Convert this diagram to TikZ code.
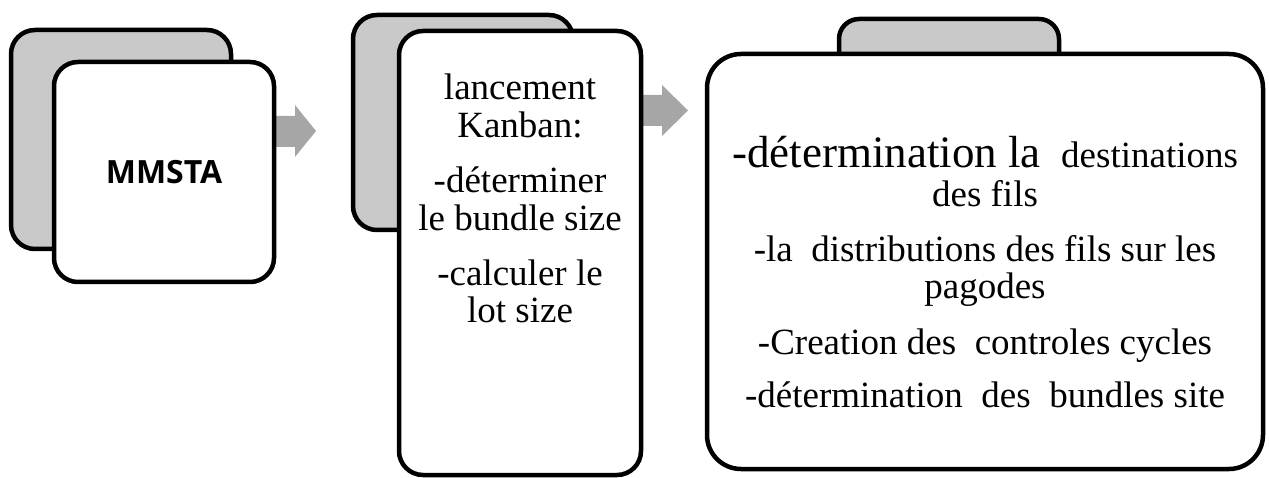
\documentclass[tikz,border=0pt]{standalone}
\usepackage{fontspec}
\setmainfont{Liberation Serif}
\newfontfamily\labelfont{Open Sans}
\definecolor{backgray}{HTML}{C9C9C9}
\definecolor{arrowgray}{HTML}{A6A6A6}
\begin{document}
\begin{tikzpicture}[x=1pt,y=-1pt,
  card/.style={draw=black, line width=4.5pt, rounded corners=24pt,
    fill=white, inner sep=0pt},
  backcard/.style={card, fill=backgray},
  bigcard/.style={card, rounded corners=34pt},
  blockarrow/.style={fill=arrowgray, draw=none},
  body/.style={anchor=base, inner sep=0pt,
    font=\fontsize{37}{37}\selectfont}]
\useasboundingbox (0,0) rectangle (1269,478);

% block arrows between the steps
\coordinate (a1) at (270,116);
\coordinate (a2) at (630,95);
\fill[blockarrow] (a1) -- ++(25,0) -- ++(0,-11) -- ++(21,26) -- ++(-21,26)
  -- ++(0,-10) -- ++(-25,0) -- cycle;
\fill[blockarrow] (a2) -- ++(32,0) -- ++(0,-10) -- ++(26,25.5) -- ++(-26,25.5)
  -- ++(0,-10) -- ++(-32,0) -- cycle;

% step 1
\node[backcard, minimum width=220pt, minimum height=219pt] (back1) at (121,139.5) {};
\node[card, minimum width=220pt, minimum height=220pt] (front1) at (164,172)
  {\labelfont\bfseries\fontsize{32}{32}\selectfont MMSTA};

% step 2
\node[backcard, minimum width=220pt, minimum height=215pt] (back2) at (463,122.5) {};
\node[card, minimum width=242pt, minimum height=444pt] (front2) at (520,253) {};
\node[body] (s2a) at (520,100) {lancement};
\node[body] (s2b) at (520,138) {Kanban:};
\node[body] (s2c) at (520,193) {-déterminer};
\node[body] (s2d) at (520,231) {le bundle size};
\node[body] (s2e) at (520,286) {-calculer le};
\node[body] (s2f) at (520,323) {lot size};

% step 3
\node[backcard, rounded corners=20pt, minimum width=220pt, minimum height=61pt] (tab3) at (949,49.5) {};
\node[bigcard, minimum width=556pt, minimum height=415pt] (main3) at (985,261.5) {};
\node[body] (s3a) at (985,168)
  {{\fontsize{45}{45}\selectfont -détermination la }\ destinations};
\node[body] (s3b) at (985,207) {des fils};
\node[body] (s3c) at (985,262) {-la\ \ distributions des fils sur les};
\node[body] (s3d) at (985,299) {pagodes};
\node[body] (s3e) at (985,354) {-Creation des\ \ controles cycles};
\node[body] (s3f) at (985,407) {-détermination\ \ des\ \ bundles site};
\end{tikzpicture}
\end{document}
